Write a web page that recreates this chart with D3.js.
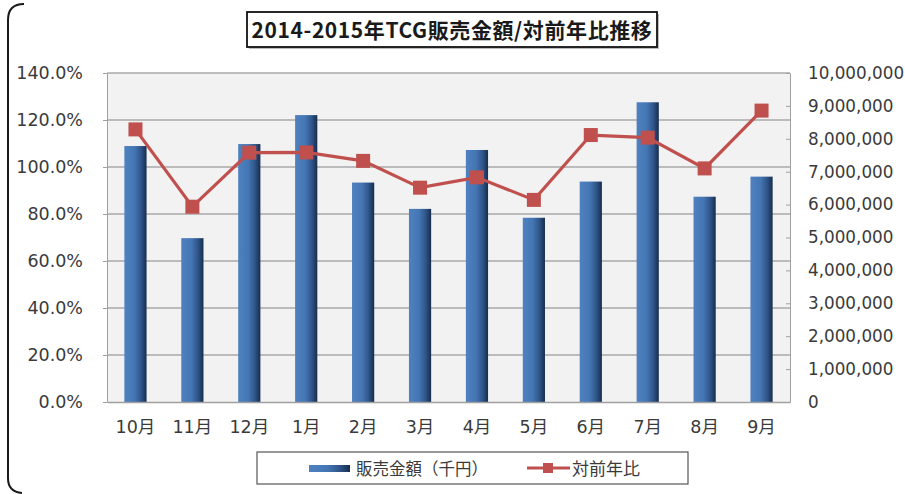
<!DOCTYPE html>
<html>
<head>
<meta charset="utf-8">
<script src="https://cdn.jsdelivr.net/npm/d3@7"></script>
<style>
  html, body { margin: 0; padding: 0; background: #ffffff; }
  svg { display: block; }
</style>
</head>
<body>
<svg id="chart" width="905" height="494"></svg>
<script>
// ---- data ----
const months = ["10月","11月","12月","1月","2月","3月","4月","5月","6月","7月","8月","9月"];
const salesValues = [7780000, 4980000, 7840000, 8720000, 6670000, 5870000, 7660000, 5600000, 6700000, 9110000, 6240000, 6850000];
const yoyValues = [116.0, 83.1, 106.1, 106.2, 102.6, 91.2, 95.6, 86.0, 113.6, 112.5, 99.4, 124.0];
const leftTicks = [0, 20, 40, 60, 80, 100, 120, 140];
const rightTicks = [0, 1000000, 2000000, 3000000, 4000000, 5000000, 6000000, 7000000, 8000000, 9000000, 10000000];
const titleText = "2014-2015年TCG販売金額/対前年比推移";
const legendLabels = ["販売金額（千円）", "対前年比"];

// ---- layout ----
const svg = d3.select("#chart");
const plot = { left: 107, right: 790, top: 73, bottom: 402 };
const labelFont = "'DejaVu Sans', 'Noto Sans CJK JP', sans-serif";
const cjkFont = "'Noto Sans CJK JP', 'DejaVu Sans', sans-serif";
const textColor = "#3a3a3a";

const x = d3.scaleBand().domain(months).range([plot.left, plot.right]).paddingInner(0.61).paddingOuter(0.305);
const yLeft = d3.scaleLinear().domain([0, 140]).range([plot.bottom, plot.top]);
const yRight = d3.scaleLinear().domain([0, 10000000]).range([plot.bottom, plot.top]);

// defs: bar gradient
const defs = svg.append("defs");
const grad = defs.append("linearGradient").attr("id", "barGrad").attr("x1", "0").attr("x2", "1").attr("y1", "0").attr("y2", "0");
grad.append("stop").attr("offset", "0%").attr("stop-color", "#4f81c0");
grad.append("stop").attr("offset", "45%").attr("stop-color", "#4576b4");
grad.append("stop").attr("offset", "75%").attr("stop-color", "#2f5589");
grad.append("stop").attr("offset", "100%").attr("stop-color", "#172d4d");

// outer chart border (only left side visible)
svg.append("path")
  .attr("d", "M24,4 Q8,4 8,20 L8,478 Q8,492 22,493")
  .attr("fill", "none").attr("stroke", "#1a1a1a").attr("stroke-width", 2);

// plot background
svg.append("rect")
  .attr("x", plot.left).attr("y", plot.top)
  .attr("width", plot.right - plot.left).attr("height", plot.bottom - plot.top)
  .attr("fill", "#f2f2f2");

// gridlines
svg.append("g").selectAll("line").data(leftTicks.filter(d => d > 0)).join("line")
  .attr("x1", plot.left).attr("x2", plot.right)
  .attr("y1", d => yLeft(d)).attr("y2", d => yLeft(d))
  .attr("stroke", "#a9a9a9").attr("stroke-width", 1.3);

// left axis
const leftAxis = d3.axisLeft(yLeft).tickValues(leftTicks).tickFormat(d => d.toFixed(1) + "%").tickSizeInner(4).tickSizeOuter(0).tickPadding(20);
const gL = svg.append("g").attr("transform", `translate(${plot.left},0)`).call(leftAxis);
gL.select(".domain").attr("stroke", "#a0a0a0");
gL.selectAll(".tick line").attr("stroke", "#a0a0a0");
gL.selectAll("text").attr("font-family", labelFont).attr("font-size", 17.5).attr("fill", textColor);

// right axis
const rightAxis = d3.axisRight(yRight).tickValues(rightTicks).tickFormat(d3.format(",")).tickSizeInner(-4).tickSizeOuter(0).tickPadding(18);
const gR = svg.append("g").attr("transform", `translate(${plot.right},0)`).call(rightAxis);
gR.select(".domain").attr("stroke", "#a0a0a0");
gR.selectAll(".tick line").attr("stroke", "#a0a0a0");
gR.selectAll("text").attr("font-family", labelFont).attr("font-size", 16.8).attr("fill", textColor);

// bars
svg.append("g").selectAll("rect").data(salesValues).join("rect")
  .attr("x", (d, i) => x(months[i]))
  .attr("y", d => yRight(d))
  .attr("width", x.bandwidth())
  .attr("height", d => yRight(0) - yRight(d))
  .attr("fill", "url(#barGrad)");

// x axis baseline
const bottomAxis = d3.axisBottom(x).tickSize(0).tickPadding(19);
const gB = svg.append("g").attr("transform", `translate(0,${plot.bottom})`).call(bottomAxis);
gB.select(".domain").attr("stroke", "#a0a0a0").attr("stroke-width", 1.3);
gB.selectAll("text").attr("font-family", labelFont).attr("font-size", 17.5).attr("fill", textColor);

// line
const lineColor = "#c0504d";
const line = d3.line().x((d, i) => x(months[i]) + x.bandwidth() / 2).y(d => yLeft(d));
svg.append("path").datum(yoyValues).attr("d", line)
  .attr("fill", "none").attr("stroke", lineColor).attr("stroke-width", 3.2);
const ms = 14;
svg.append("g").selectAll("rect").data(yoyValues).join("rect")
  .attr("x", (d, i) => x(months[i]) + x.bandwidth() / 2 - ms / 2)
  .attr("y", d => yLeft(d) - ms / 2)
  .attr("width", ms).attr("height", ms)
  .attr("fill", lineColor);

// title box
svg.append("rect").attr("x", 249).attr("y", 14).attr("width", 410).attr("height", 35).attr("fill", "#bdbdbd");
svg.append("rect").attr("x", 247).attr("y", 12).attr("width", 410).attr("height", 35)
  .attr("fill", "#ffffff").attr("stroke", "#111").attr("stroke-width", 1.8);
svg.append("text").attr("x", 452).attr("y", 38).attr("text-anchor", "middle")
  .attr("font-family", cjkFont).attr("font-weight", "bold").attr("font-size", 21)
  .attr("letter-spacing", 0.6)
  .attr("fill", "#1a1a1a").text(titleText);

// legend
const lg = svg.append("g");
lg.append("rect").attr("x", 257).attr("y", 452).attr("width", 431).attr("height", 32)
  .attr("fill", "#ffffff").attr("stroke", "#555").attr("stroke-width", 1.2);
lg.append("rect").attr("x", 309).attr("y", 465).attr("width", 41).attr("height", 7).attr("fill", "url(#barGrad)");
lg.append("text").attr("x", 356).attr("y", 475).attr("font-family", cjkFont).attr("font-size", 16.5)
  .attr("fill", textColor).text(legendLabels[0]);
lg.append("line").attr("x1", 527).attr("x2", 570).attr("y1", 468).attr("y2", 468)
  .attr("stroke", lineColor).attr("stroke-width", 3);
lg.append("rect").attr("x", 543).attr("y", 463).attr("width", 10).attr("height", 10).attr("fill", lineColor);
lg.append("text").attr("x", 572).attr("y", 475).attr("font-family", cjkFont).attr("font-size", 17)
  .attr("fill", textColor).text(legendLabels[1]);
</script>
</body>
</html>
